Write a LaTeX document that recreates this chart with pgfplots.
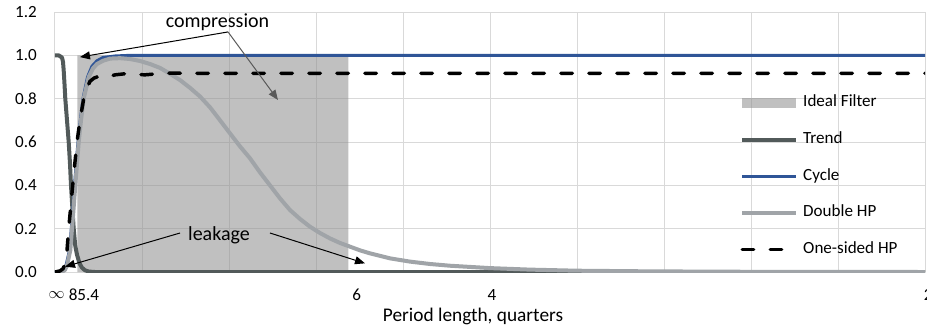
\documentclass[border=0pt]{standalone}
\usepackage{pgfplots}
\pgfplotsset{compat=1.18}
\usepackage{fontspec}
\setmainfont{Carlito}
\usetikzlibrary{arrows.meta}
\definecolor{gridgray}{HTML}{D9D9D9}
\definecolor{trendc}{HTML}{525A5A}
\definecolor{cyclec}{HTML}{2F5597}
\definecolor{dhpc}{HTML}{A0A4A8}
\definecolor{idealc}{HTML}{929292}
\begin{document}
\begin{tikzpicture}
\begin{axis}[
  scale only axis, width=652.5pt, height=195pt,
  xmin=0, xmax=10, ymin=0, ymax=1.2,
  xtick={0,1,2,3,4,5,6,7,8,9,10}, xticklabels={},
  ytick={0,0.2,0.4,0.6,0.8,1.0,1.2},
  grid=major, major grid style={draw=gridgray, line width=0.75pt},
  axis line style={draw=none}, major tick length=0pt,
  /pgf/number format/assume math mode=true,
  yticklabel style={/pgf/number format/.cd, fixed, fixed zerofill, precision=1, /tikz/.cd, anchor=east, inner sep=0pt, xshift=-13.5pt},
  ticklabel style={font=\fontsize{12.8}{15}\selectfont},
  extra x ticks={0.02,0.333,3.468,5.023,10},
  extra x tick labels={$\infty$,85.4,6,4,\hspace*{4.6pt}2},
  extra x tick style={grid=none, xticklabel style={anchor=center, yshift=-17.25pt, inner sep=0pt}},
  xlabel={Period length, quarters},
  xlabel style={at={(axis description cs:0.4805,0)}, anchor=center, yshift=-33pt, inner sep=0pt, font=\fontsize{14.5}{17}\selectfont},
  legend image code/.code={\draw[#1] (0pt,0pt) -- (40.5pt,0pt);},
  legend style={at={(axis cs:7.873,0.794)}, anchor=north west, yshift=4pt, draw=none, fill=none,
    font=\fontsize{12.8}{15}\selectfont, inner sep=0pt, row sep=15.5pt, column sep=3.75pt,
    nodes={inner sep=0pt, text height=9pt, text depth=3pt}},
  legend cell align=left,
]
\coordinate (SW) at (rel axis cs:0,0);
% Ideal filter
\addplot[fill=idealc, fill opacity=0.58, draw=none,
  legend image code/.code={\fill[idealc, fill opacity=0.58] (0pt,-3.75pt) rectangle (40.5pt,3.75pt);}]
  coordinates {(0.2563,0) (0.2563,1) (3.371,1) (3.371,0)} \closedcycle;
\addlegendentry{Ideal Filter}
% Trend
\addplot[trendc, line width=3pt, line join=round] coordinates {
(0,1.0) (0.0425,1.0) (0.0805,0.99) (0.092,0.97) (0.100,0.93) (0.109,0.87) (0.1184,0.8) (0.138,0.7) (0.1575,0.6) (0.1724,0.5) (0.1839,0.4) (0.1989,0.3) (0.2149,0.2) (0.2333,0.12) (0.2529,0.08) (0.2816,0.04) (0.3103,0.02) (0.3448,0.008) (0.3874,0.002) (0.4598,0) (10,0)};
\addlegendentry{Trend}
% Cycle
\addplot[cyclec, line width=2.25pt, line join=round] coordinates {
(0,0) (0.0805,0) (0.1034,0.01) (0.1264,0.03) (0.1667,0.1) (0.1874,0.2) (0.2069,0.3) (0.2241,0.4) (0.2437,0.5) (0.2644,0.6) (0.2908,0.7) (0.3218,0.8) (0.3736,0.9) (0.4253,0.95) (0.4828,0.975) (0.5517,0.99) (0.6897,0.997) (0.8621,1.0) (10,1.0)};
\addlegendentry{Cycle}
% Double HP
\addplot[dhpc, line width=3pt, line join=round] coordinates {
(0,0) (0.0805,0) (0.115,0.01) (0.138,0.03) (0.1759,0.1) (0.1954,0.2) (0.2149,0.3) (0.2333,0.4) (0.2529,0.5) (0.2724,0.6) (0.2989,0.7) (0.3299,0.8) (0.3874,0.9) (0.4368,0.94) (0.4828,0.96) (0.5517,0.975) (0.6322,0.985) (0.7471,0.987) (0.8621,0.983) (0.977,0.974) (1.092,0.96) (1.207,0.942) (1.322,0.915) (1.437,0.886) (1.552,0.85) (1.667,0.81) (1.782,0.76) (1.897,0.70) (2.011,0.64) (2.126,0.58) (2.241,0.525) (2.356,0.46) (2.471,0.40) (2.586,0.34) (2.701,0.286) (2.816,0.245) (2.931,0.209) (3.046,0.18) (3.161,0.155) (3.276,0.134) (3.391,0.117) (3.506,0.10) (3.621,0.086) (3.851,0.063) (4.080,0.048) (4.310,0.037) (4.540,0.029) (5.0,0.018) (5.46,0.011) (6.0,0.006) (6.839,0.003) (7.989,0.001) (10,0)};
\addlegendentry{Double HP}
% One-sided HP
\addplot[black, line width=2.6pt, line cap=round, dash pattern=on 8.6pt off 12.4pt] coordinates {
(0,0) (0.0575,0.005) (0.092,0.015) (0.1184,0.04) (0.138,0.1) (0.1575,0.2) (0.1805,0.3) (0.2034,0.4) (0.2276,0.5) (0.2529,0.6) (0.2874,0.7) (0.3299,0.8) (0.3678,0.85) (0.4023,0.88) (0.4483,0.895) (0.4828,0.9) (0.5172,0.896) (0.5632,0.894) (0.6092,0.9) (0.6897,0.91) (0.8046,0.915) (0.9195,0.912) (1.0345,0.91) (1.149,0.914) (1.322,0.918) (1.667,0.917) (10,0.917)};
\addlegendentry{One-sided HP}
% annotations
\node[font=\fontsize{15}{18}\selectfont, inner sep=0pt] at (axis cs:1.868,1.154) {compression};
\draw[black, line width=0.75pt, -{Triangle[length=7.5pt,width=6pt]}] (axis cs:1.989,1.108) -- (axis cs:0.287,0.992);
\draw[black!65, line width=0.75pt, -{Triangle[length=7.5pt,width=6pt]}] (axis cs:1.989,1.108) -- (axis cs:2.563,0.794);
\node[font=\fontsize{15}{18}\selectfont, inner sep=0pt] at (axis cs:1.885,0.171) {leakage};
\draw[black, line width=0.75pt, -{Triangle[length=7.5pt,width=6pt]}] (axis cs:1.437,0.18) -- (axis cs:0.115,0.0246);
\draw[black, line width=0.75pt, -{Triangle[length=7.5pt,width=6pt]}] (axis cs:2.471,0.18) -- (axis cs:3.563,0.04);
\end{axis}
\pgfresetboundingbox
\path[use as bounding box] ([shift={(-41.25pt,-43.5pt)}]SW) rectangle ([shift={(654pt,204pt)}]SW);
\end{tikzpicture}
\end{document}
